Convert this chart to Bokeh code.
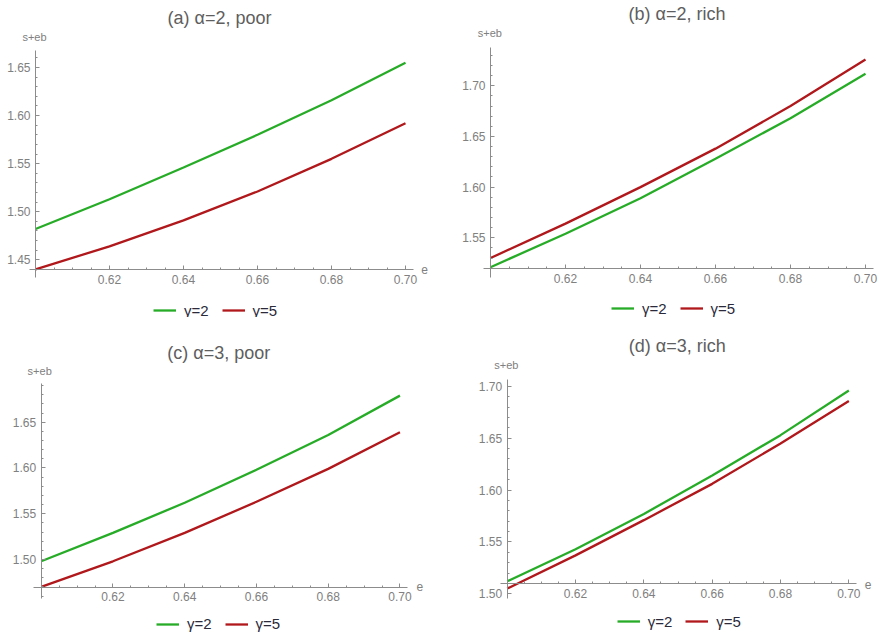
from bokeh.plotting import figure
from bokeh.models import (LinearAxis, FixedTicker, PrintfTickFormatter, Label,
                          Legend, LegendItem, Range1d)
from bokeh.layouts import gridplot
from bokeh.embed import file_html
from bokeh.resources import INLINE

# ---------------- data ----------------
e_vals = [0.60, 0.62, 0.64, 0.66, 0.68, 0.70]

a_gamma2 = [1.482, 1.513, 1.546, 1.580, 1.616, 1.655]
a_gamma5 = [1.440, 1.464, 1.491, 1.521, 1.555, 1.592]
b_gamma2 = [1.521, 1.554, 1.589, 1.628, 1.668, 1.712]
b_gamma5 = [1.530, 1.564, 1.600, 1.638, 1.680, 1.726]
c_gamma2 = [1.498, 1.529, 1.562, 1.598, 1.636, 1.679]
c_gamma5 = [1.470, 1.498, 1.529, 1.563, 1.599, 1.639]
d_gamma2 = [1.512, 1.543, 1.577, 1.614, 1.653, 1.696]
d_gamma5 = [1.505, 1.537, 1.571, 1.606, 1.645, 1.686]

titles = ["(a) α=2, poor", "(b) α=2, rich", "(c) α=3, poor", "(d) α=3, rich"]
legend_labels = ["γ=2", "γ=5"]
x_label = "e"
y_label = "s+eb"

x_major_ticks = [0.62, 0.64, 0.66, 0.68, 0.70]
y_major_ticks_a = [1.45, 1.50, 1.55, 1.60, 1.65]
y_major_ticks_b = [1.55, 1.60, 1.65, 1.70]
y_major_ticks_c = [1.50, 1.55, 1.60, 1.65]
y_major_ticks_d = [1.50, 1.55, 1.60, 1.65, 1.70]

GREEN = "#27ac27"
RED = "#b0181c"
AXIS_COL = "#8c8c8c"
TICK_TXT = "#808080"
TITLE_COL = "#5e5e5e"

x_minor_all = [round(0.60 + 0.005 * i, 3) for i in range(1, 21)]
y_minor_all = [round(1.40 + 0.01 * i, 2) for i in range(0, 36)]

# panel geometry (pixels inside each canvas); the frame fills the canvas
panels = [
    dict(series=(a_gamma2, a_gamma5), yt=y_major_ticks_a, title=titles[0],
         W=440, H=317, ox=35, oy=269, y0=1.4399, kx=3700.0, ky=961.5,
         xax=(29, 413), yax=(277, 50),
         tpos=(219, 17.5), ylab=(34, 36.5), elab=(424, 269), leg=(153, 310.5)),
    dict(series=(b_gamma2, b_gamma5), yt=y_major_ticks_b, title=titles[1],
         W=441, H=317, ox=50, oy=268, y0=1.5197, kx=3750.0, ky=1013.3,
         xax=(43, 433), yax=(276.5, 47.3),
         tpos=(236.5, 13.5), ylab=(49.3, 32.7), elab=None, leg=(171, 308.5)),
    dict(series=(c_gamma2, c_gamma5), yt=y_major_ticks_c, title=titles[2],
         W=440, H=317, ox=40.7, oy=269.7, y0=1.4697, kx=3587.5, ky=915.3,
         xax=(33, 407.3), yax=(281.3, 66.3),
         tpos=(218.3, 35.3), ylab=(39.2, 53.7), elab=(419.3, 269), leg=(156, 307)),
    dict(series=(d_gamma2, d_gamma5), yt=y_major_ticks_d, title=titles[3],
         W=441, H=317, ox=66.7, oy=266.3, y0=1.5096, kx=3416.7, ky=1036.7,
         xax=(60, 416), yax=(281, 62.3),
         tpos=(236.7, 28), ylab=(65.8, 47.3), elab=(427.7, 267), leg=(176.7, 304.7)),
]

figs = []
for g in panels:
    X = lambda px, g=g: 0.60 + (px - g["ox"]) / g["kx"]
    Y = lambda py, g=g: g["y0"] + (g["oy"] - py) / g["ky"]
    W, H = g["W"], g["H"]
    p = figure(width=W, height=H, output_backend="svg",
               toolbar_location=None, title=None,
               x_axis_type=None, y_axis_type=None,
               x_range=Range1d(X(0), X(W)), y_range=Range1d(Y(H), Y(0)),
               min_border_left=0, min_border_right=0,
               min_border_top=0, min_border_bottom=0)
    p.outline_line_color = None
    p.background_fill_color = "white"
    p.border_fill_color = "white"

    xlo, xhi = X(g["xax"][0]), X(g["xax"][1])
    ylo, yhi = Y(g["yax"][0]), Y(g["yax"][1])
    x_minor = [t for t in x_minor_all if t not in x_major_ticks and xlo <= t <= xhi]
    y_minor = [t for t in y_minor_all if t not in g["yt"] and ylo <= t <= yhi]

    # axes crossing at the origin, Mathematica style
    xaxis = LinearAxis(fixed_location=g["y0"],
                       ticker=FixedTicker(ticks=x_major_ticks, minor_ticks=x_minor),
                       formatter=PrintfTickFormatter(format="%.2f"),
                       bounds=(xlo, xhi))
    yaxis = LinearAxis(fixed_location=0.60,
                       ticker=FixedTicker(ticks=g["yt"], minor_ticks=y_minor),
                       formatter=PrintfTickFormatter(format="%.2f"),
                       bounds=(ylo, yhi))
    for ax in (xaxis, yaxis):
        ax.axis_line_color = AXIS_COL
        ax.major_tick_line_color = AXIS_COL
        ax.minor_tick_line_color = AXIS_COL
        ax.major_tick_in = 4
        ax.major_tick_out = 0
        ax.minor_tick_in = 2
        ax.minor_tick_out = 0
        ax.major_label_text_color = TICK_TXT
        ax.major_label_text_font = "Liberation Sans"
        ax.major_label_text_font_size = "12px"
        ax.major_label_standoff = 5
    p.add_layout(xaxis, "below")
    p.add_layout(yaxis, "left")

    r2 = p.line(e_vals, g["series"][0], line_color=GREEN, line_width=2.3)
    r5 = p.line(e_vals, g["series"][1], line_color=RED, line_width=2.3)

    # title, axis labels
    tx, ty = g["tpos"]
    p.add_layout(Label(x=X(tx), y=Y(ty), text=g["title"], text_align="center",
                       text_baseline="middle", text_font="Liberation Sans",
                       text_font_size="18px", text_color=TITLE_COL))
    lx, ly = g["ylab"]
    p.add_layout(Label(x=X(lx), y=Y(ly), text=y_label, text_align="center",
                       text_baseline="middle", text_font="Liberation Sans",
                       text_font_size="11px", text_color=TICK_TXT))
    if g["elab"] is not None:
        ex, ey = g["elab"]
        p.add_layout(Label(x=X(ex), y=Y(ey), text=x_label, text_align="center",
                           text_baseline="middle", text_font="Liberation Sans",
                           text_font_size="12px", text_color=TICK_TXT))

    # legend below the plot (frame = whole canvas, so location is from canvas bottom-left)
    lgx, lgcy = g["leg"]
    hgt = 16
    legend = Legend(items=[LegendItem(label=legend_labels[0], renderers=[r2]),
                           LegendItem(label=legend_labels[1], renderers=[r5])],
                    orientation="horizontal",
                    location=(lgx, H - (lgcy + hgt / 2)),
                    border_line_color=None, background_fill_alpha=0,
                    padding=0, margin=0, spacing=13, glyph_width=23,
                    glyph_height=hgt, label_height=hgt, label_standoff=8,
                    label_text_font="Liberation Sans", label_text_font_size="15px",
                    label_text_color="#2a2a3a")
    p.add_layout(legend, "center")
    figs.append(p)

grid = gridplot([[figs[0], figs[1]], [figs[2], figs[3]]], toolbar_location=None)
open("out.html", "w").write(file_html(grid, INLINE))
